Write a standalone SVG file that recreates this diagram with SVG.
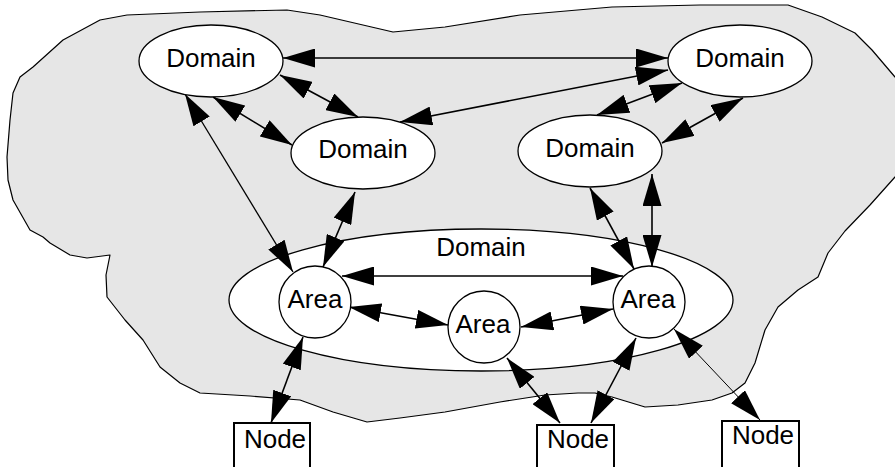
<svg xmlns="http://www.w3.org/2000/svg" width="895" height="467" viewBox="0 0 895 467">
<style>
.lbl{font-family:"Liberation Sans",Arial,Helvetica,sans-serif;font-size:26px;fill:#000;text-anchor:middle}
.node{fill:#fff;stroke:#000;stroke-width:1.3}
.box{fill:#fff;stroke:#000;stroke-width:2}
.c{fill:none;stroke:#000;stroke-width:1.6;marker-start:url(#ah);marker-end:url(#ah)}
.t{stroke-width:1.3}
.tt{stroke-width:1}
</style>
<defs>
<marker id="ah" viewBox="0 0 32 19" markerWidth="32" markerHeight="19" refX="32" refY="9.5" orient="auto-start-reverse" markerUnits="userSpaceOnUse">
<path d="M0,0 L32,9.5 L0,19 Z" fill="#000"/>
</marker>
</defs>
<path id="region" d="M127,15 L200,12 L287,10 L320,15 L393,32 L445,27 L520,15 L612,7 L700,5 L788,5 L822,17 L855,33 L872,50 L895,77 L900,80 L900,175 L895,177 L870,205 L845,231 L828,253 L818,277 L798,290 L778,307 L765,330 L755,363 L745,383 L732,393 L712,400 L678,405 L645,407 L612,397 L595,393 L578,393 L545,395 L500,402 L445,412 L400,418 L367,422 L333,412 L300,400 L250,396 L200,393 L180,383 L160,367 L143,340 L125,320 L107,297 L106,275 L110,255 L87,258 L70,255 L50,243 L43,237 L30,230 L13,200 L8,180 L7,157 L10,120 L13,93 L20,77 L33,67 L63,40 L100,20 Z" fill="#e6e6e6" stroke="#000" stroke-width="1.2" stroke-linejoin="round"/>
<g id="domain-big"><ellipse class="node" cx="481" cy="300" rx="252" ry="71"/><text class="lbl" x="481" y="256">Domain</text></g>
<g id="connectors">
<line class="c" x1="283" y1="58" x2="668" y2="58"/>
<line class="c" x1="400" y1="122" x2="668" y2="70"/>
<line class="c" x1="280" y1="75" x2="358" y2="117"/>
<line class="c" x1="213" y1="97" x2="292" y2="145"/>
<line class="c t" x1="185" y1="94" x2="293" y2="272"/>
<line class="c" x1="355" y1="192" x2="323" y2="267"/>
<line class="c" x1="682" y1="83" x2="597" y2="115"/>
<line class="c" x1="743" y1="98" x2="662" y2="143"/>
<line class="c" x1="590" y1="188" x2="634" y2="269"/>
<line class="c" x1="652" y1="174" x2="652" y2="267"/>
<line class="c" x1="342" y1="276" x2="623" y2="276"/>
<line class="c" x1="349" y1="307" x2="448" y2="325"/>
<line class="c" x1="521" y1="327" x2="613" y2="309"/>
<line class="c" x1="303" y1="337" x2="271" y2="423"/>
<line class="c" x1="507" y1="358" x2="560" y2="423"/>
<line class="c" x1="636" y1="338" x2="591" y2="423"/>
<line class="c tt" x1="674" y1="329" x2="760" y2="420"/>
</g>
<g id="domain-tl"><ellipse class="node" cx="211" cy="61" rx="72" ry="36"/><text class="lbl" x="211" y="67">Domain</text></g>
<g id="domain-ml"><ellipse class="node" cx="363" cy="153" rx="72" ry="36"/><text class="lbl" x="363" y="158">Domain</text></g>
<g id="domain-tr"><ellipse class="node" cx="740" cy="61" rx="72" ry="36"/><text class="lbl" x="740" y="67">Domain</text></g>
<g id="domain-mr"><ellipse class="node" cx="590" cy="151" rx="72" ry="36"/><text class="lbl" x="590" y="157">Domain</text></g>
<g id="area-l"><circle class="node" cx="315" cy="302" r="36"/><text class="lbl" x="315" y="308">Area</text></g>
<g id="area-m"><circle class="node" cx="484" cy="327" r="36"/><text class="lbl" x="483" y="333">Area</text></g>
<g id="area-r"><circle class="node" cx="649" cy="302" r="36"/><text class="lbl" x="648" y="308">Area</text></g>
<g id="node-l"><rect class="box" x="234" y="423" width="76" height="60"/><text class="lbl" x="275" y="448">Node</text></g>
<g id="node-m"><rect class="box" x="537" y="425" width="77" height="60"/><text class="lbl" x="578" y="448">Node</text></g>
<g id="node-r"><rect class="box" x="722" y="421" width="77" height="60"/><text class="lbl" x="763" y="444">Node</text></g>
</svg>
